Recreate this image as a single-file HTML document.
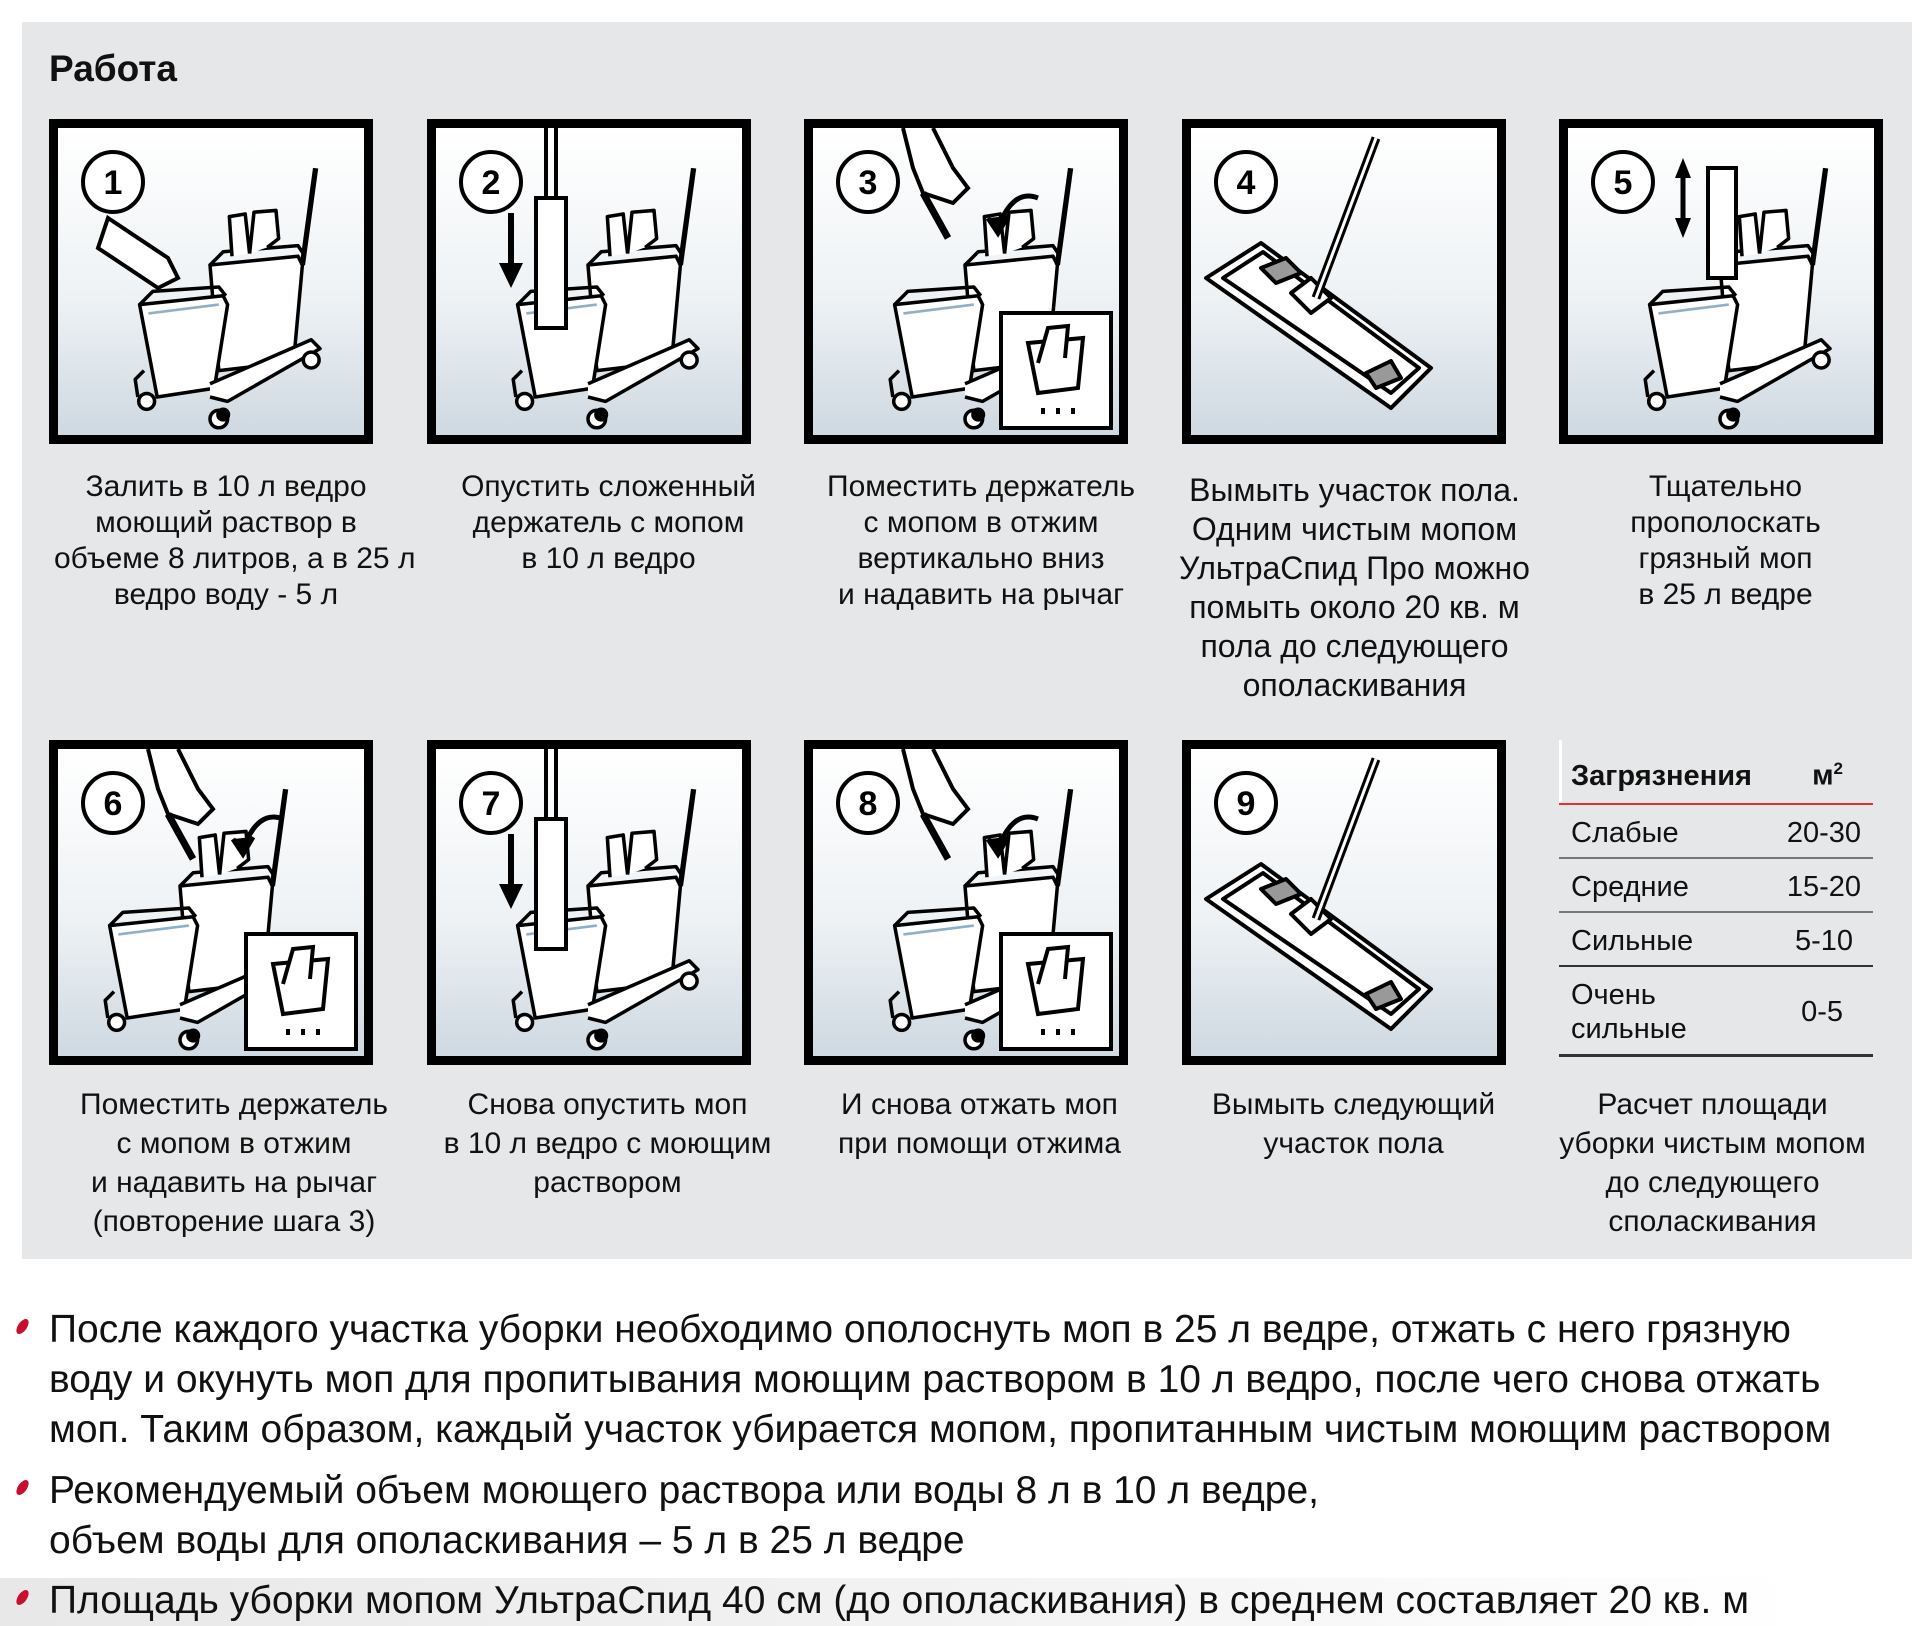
<!DOCTYPE html>
<html><head><meta charset="utf-8">
<style>
*{margin:0;padding:0;box-sizing:border-box}
body{width:1928px;height:1626px;background:#fff;position:relative;overflow:hidden;font-family:"Liberation Sans","DejaVu Sans",sans-serif;color:#111}
#panel{position:absolute;left:22px;top:22px;width:1890px;height:1237px;background:#e6e7e9}
.t{position:absolute;font-weight:bold;font-size:37px;left:49px;top:48px}
.box{position:absolute;width:324px;height:325px;border:9px solid #000;background:linear-gradient(#ffffff,#eef2f5 55%,#cfd9e1)}
.box svg{position:absolute;left:0;top:0;width:306px;height:307px}
.cap{position:absolute;text-align:center;font-size:30px;line-height:36px;white-space:nowrap}
.cap2{line-height:39px;font-size:30px}
.tbl{position:absolute;left:1559px;width:314px;font-size:29px}
.row{position:absolute;left:0;width:314px;display:flex;justify-content:space-between;padding:0 12px;align-items:center}
.ln{position:absolute;left:0;width:314px;height:2px;background:#333}
.bul{position:absolute;left:49px;font-size:39px;white-space:nowrap;line-height:50px}
.dot{position:absolute;left:18px;width:9px;height:17px;background:#c8102e;border-radius:50%;transform:rotate(35deg)}
</style></head><body>
<div id="panel"></div>
<div class="t">Работа</div>

<svg width="0" height="0" style="position:absolute">
<defs>
<g id="cart" fill="none" stroke="#000" stroke-width="4" stroke-linejoin="round" transform="translate(20,5) scale(0.88)">
 <path d="M150 150 L250 140 L255 150 L245 260 L160 270 Z" fill="#fff"/>
 <path d="M150 150 L165 135 L250 128 L258 140" />
 <path d="M175 140 L172 95 L190 92 L195 137 M195 137 L200 90 L225 88 L228 120 L215 130" fill="#fff"/>
 <path d="M255 150 L270 40" stroke-width="6"/>
 <path d="M70 195 L165 185 L170 195 L155 290 L90 300 Z" fill="#fff"/>
 <path d="M70 195 L85 180 L160 175 L168 185" />
 <path d="M80 205 L160 195" stroke="#8fb0c8" stroke-width="3"/>
 <path d="M150 285 L265 235 L275 245 L170 305 L150 300" fill="#fff"/>
 <path d="M75 270 L65 280 L68 300" />
 <circle cx="78" cy="305" r="9" fill="#fff"/><circle cx="160" cy="325" r="10" fill="#fff"/>
 <circle cx="265" cy="258" r="9" fill="#fff"/><circle cx="165" cy="320" r="6" fill="#000"/>
</g>
<g id="mop" fill="none" stroke="#000" stroke-width="4" stroke-linejoin="round">
 <path d="M15 150 L70 115 L240 240 L200 280 Z" fill="#fff"/>
 <path d="M32 150 L72 124 L228 240 L200 265 Z"/>
 <path d="M70 140 L95 130 L110 145 L85 155 Z" fill="#999"/>
 <path d="M175 245 L200 233 L210 250 L185 260 Z" fill="#999"/>
 <path d="M100 165 L120 150 L140 170 L120 185 Z" fill="#fff"/>
 <path d="M185 10 L125 170" stroke-width="9"/>
 <path d="M185 10 L125 170" stroke="#fff" stroke-width="3"/>
</g>
<g id="hand" fill="#fff" stroke="#000" stroke-width="4">
 <path d="M120 0 L140 40 L155 60 L140 75 L110 65 L100 40 L90 0"/>
 <path d="M110 65 L135 110" stroke-width="7"/>
</g>
<g id="inset" fill="#fff" stroke="#000" stroke-width="4">
 <rect x="188" y="185" width="110" height="115"/>
 <path d="M215 215 L270 210 L265 260 L225 265 Z"/>
 <path d="M225 235 L235 200 L255 198 L252 230" />
 <path d="M230 280 l0 6 M245 280 l0 6 M260 280 l0 6"/>
</g>
<g id="arr" fill="none" stroke="#000" stroke-width="5"><path d="M225 70 Q200 60 185 100"/><path d="M175 90 L185 105 L195 88" fill="#000"/></g>
</defs></svg>

<!-- Row 1 -->
<div class="box" style="left:49px;top:119px"><svg viewBox="0 0 306 307"><use href="#cart"/>
<path d="M50 90 L110 130 L120 150 L100 160 L40 120 Z" fill="#fff" stroke="#000" stroke-width="4"/>
<circle cx="55" cy="54" r="30" fill="#fff" stroke="#000" stroke-width="4"/><text x="55" y="66" font-size="34" font-weight="bold" text-anchor="middle" font-family="Liberation Sans">1</text></svg></div>
<div class="box" style="left:427px;top:119px"><svg viewBox="0 0 306 307"><use href="#cart"/>
<rect x="100" y="70" width="30" height="130" fill="#fff" stroke="#000" stroke-width="4"/><path d="M110 0 L110 70 M120 0 L120 70" stroke="#000" stroke-width="4"/>
<path d="M75 85 L75 140" stroke="#000" stroke-width="6"/><path d="M63 135 L75 160 L87 135 Z"/>
<circle cx="55" cy="54" r="30" fill="#fff" stroke="#000" stroke-width="4"/><text x="55" y="66" font-size="34" font-weight="bold" text-anchor="middle" font-family="Liberation Sans">2</text></svg></div>
<div class="box" style="left:804px;top:119px"><svg viewBox="0 0 306 307"><use href="#cart"/><use href="#hand"/><use href="#inset"/><use href="#arr"/>
<circle cx="55" cy="54" r="30" fill="#fff" stroke="#000" stroke-width="4"/><text x="55" y="66" font-size="34" font-weight="bold" text-anchor="middle" font-family="Liberation Sans">3</text></svg></div>
<div class="box" style="left:1182px;top:119px"><svg viewBox="0 0 306 307"><use href="#mop"/>
<circle cx="55" cy="54" r="30" fill="#fff" stroke="#000" stroke-width="4"/><text x="55" y="66" font-size="34" font-weight="bold" text-anchor="middle" font-family="Liberation Sans">4</text></svg></div>
<div class="box" style="left:1559px;top:119px"><svg viewBox="0 0 306 307"><use href="#cart"/>
<rect x="140" y="40" width="28" height="110" fill="#fff" stroke="#000" stroke-width="4"/>
<path d="M115 40 L115 100" stroke="#000" stroke-width="5"/><path d="M107 50 L115 30 L123 50 Z M107 90 L115 110 L123 90Z"/>
<circle cx="55" cy="54" r="30" fill="#fff" stroke="#000" stroke-width="4"/><text x="55" y="66" font-size="34" font-weight="bold" text-anchor="middle" font-family="Liberation Sans">5</text></svg></div>

<div class="cap" style="left:54px;width:344px;top:469px">Залить в 10 л ведро<br>моющий раствор в<br>объеме 8 литров, а в 25 л<br>ведро воду - 5 л</div>
<div class="cap" style="left:437px;width:343px;top:469px">Опустить сложенный<br>держатель с мопом<br>в 10 л ведро</div>
<div class="cap" style="left:810px;width:342px;top:469px">Поместить держатель<br>с мопом в отжим<br>вертикально вниз<br>и надавить на рычаг</div>
<div class="cap cap2" style="left:1171px;width:367px;top:471px;font-size:32px">Вымыть участок пола.<br>Одним чистым мопом<br>УльтраСпид Про можно<br>помыть около 20 кв. м<br>пола до следующего<br>ополаскивания</div>
<div class="cap" style="left:1564px;width:323px;top:469px">Тщательно<br>прополоскать<br>грязный моп<br>в 25 л ведре</div>

<!-- Row 2 -->
<div class="box" style="left:49px;top:740px"><svg viewBox="0 0 306 307"><use href="#cart" transform="translate(-30,0)"/><use href="#hand"/><use href="#inset"/><use href="#arr"/>
<circle cx="55" cy="54" r="30" fill="#fff" stroke="#000" stroke-width="4"/><text x="55" y="66" font-size="34" font-weight="bold" text-anchor="middle" font-family="Liberation Sans">6</text></svg></div>
<div class="box" style="left:427px;top:740px"><svg viewBox="0 0 306 307"><use href="#cart"/>
<rect x="100" y="70" width="30" height="130" fill="#fff" stroke="#000" stroke-width="4"/><path d="M110 0 L110 70 M120 0 L120 70" stroke="#000" stroke-width="4"/>
<path d="M75 85 L75 140" stroke="#000" stroke-width="6"/><path d="M63 135 L75 160 L87 135 Z"/>
<circle cx="55" cy="54" r="30" fill="#fff" stroke="#000" stroke-width="4"/><text x="55" y="66" font-size="34" font-weight="bold" text-anchor="middle" font-family="Liberation Sans">7</text></svg></div>
<div class="box" style="left:804px;top:740px"><svg viewBox="0 0 306 307"><use href="#cart"/><use href="#hand"/><use href="#inset"/><use href="#arr"/>
<circle cx="55" cy="54" r="30" fill="#fff" stroke="#000" stroke-width="4"/><text x="55" y="66" font-size="34" font-weight="bold" text-anchor="middle" font-family="Liberation Sans">8</text></svg></div>
<div class="box" style="left:1182px;top:740px"><svg viewBox="0 0 306 307"><use href="#mop"/>
<circle cx="55" cy="54" r="30" fill="#fff" stroke="#000" stroke-width="4"/><text x="55" y="66" font-size="34" font-weight="bold" text-anchor="middle" font-family="Liberation Sans">9</text></svg></div>

<div class="cap cap2" style="left:62px;width:344px;top:1085px">Поместить держатель<br>с мопом в отжим<br>и надавить на рычаг<br>(повторение шага 3)</div>
<div class="cap cap2" style="left:435px;width:345px;top:1085px">Снова опустить моп<br>в 10 л ведро с моющим<br>раствором</div>
<div class="cap cap2" style="left:807px;width:345px;top:1085px">И снова отжать моп<br>при помощи отжима</div>
<div class="cap cap2" style="left:1181px;width:345px;top:1085px">Вымыть следующий<br>участок пола</div>
<div class="cap cap2" style="left:1530px;width:365px;top:1085px">Расчет площади<br>уборки чистым мопом<br>до следующего<br>споласкивания</div>

<!-- Table -->
<div class="tbl" style="top:740px">
 <div style="position:absolute;left:0;top:0;width:3px;height:62px;background:#fff"></div>
 <div class="row" style="top:14px;height:44px;font-weight:bold"><span>Загрязнения</span><span style="margin-right:18px">м<sup style="font-size:17px">2</sup></span></div>
 <div class="ln" style="top:63px;background:#d33"></div>
 <div class="row" style="top:70px;height:46px"><span>Слабые</span><span>20-30</span></div>
 <div class="ln" style="top:117px;background:#777"></div>
 <div class="row" style="top:124px;height:46px"><span>Средние</span><span>15-20</span></div>
 <div class="ln" style="top:171px;background:#777"></div>
 <div class="row" style="top:178px;height:46px"><span>Сильные</span><span style="margin-right:8px">5-10</span></div>
 <div class="ln" style="top:225px"></div>
 <div class="row" style="top:232px;height:80px;line-height:34px"><span>Очень<br>сильные</span><span style="margin-right:18px">0-5</span></div>
 <div class="ln" style="top:314px;height:3px"></div>
</div>

<!-- Bullets -->
<div style="position:absolute;left:0;top:1578px;width:1800px;height:48px;background:linear-gradient(90deg,#e8e8e8,#f4f4f4 60%,#fff)"></div>
<div class="dot" style="top:1318px"></div>
<div class="bul" style="top:1305px">После каждого участка уборки необходимо ополоснуть моп в 25 л ведре, отжать с него грязную<br>воду и окунуть моп для пропитывания моющим раствором в 10 л ведро, после чего снова отжать<br>моп. Таким образом, каждый участок убирается мопом, пропитанным чистым моющим раствором</div>
<div class="dot" style="top:1479px"></div>
<div class="bul" style="top:1466px">Рекомендуемый объем моющего раствора или воды 8 л в 10 л ведре,<br>объем воды для ополаскивания – 5 л в 25 л ведре</div>
<div class="dot" style="top:1589px"></div>
<div class="bul" style="top:1576px">Площадь уборки мопом УльтраСпид 40 см (до ополаскивания) в среднем составляет 20 кв. м</div>
</body></html>
